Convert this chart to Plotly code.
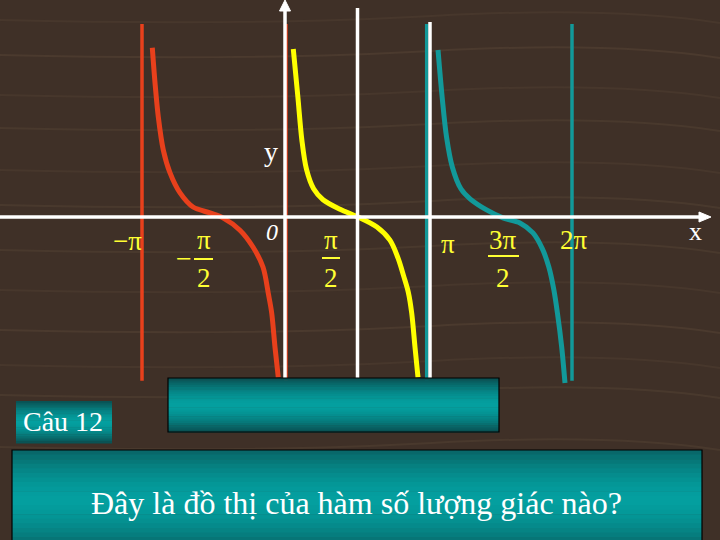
import plotly.graph_objects as go

# ---------------- data (x in units of pi, y in function units) ----------------
red_x = [-0.928, -0.909, -0.886, -0.851, -0.804, -0.734, -0.643, -0.524, -0.434,
         -0.315, -0.224, -0.154, -0.115, -0.093, -0.070, -0.047]
red_y = [3.72, 2.95, 2.20, 1.47, 0.97, 0.53, 0.22, 0.09, -0.02,
         -0.29, -0.66, -1.10, -1.71, -2.11, -2.86, -3.52]

yellow_x = [0.058, 0.090, 0.118, 0.150, 0.200, 0.266, 0.385, 0.510, 0.643, 0.734,
            0.790, 0.830, 0.862, 0.886, 0.909, 0.930]
yellow_y = [3.69, 2.64, 1.69, 1.05, 0.62, 0.38, 0.17, 0.00, -0.22, -0.51,
            -0.90, -1.30, -1.65, -2.11, -2.86, -3.52]

teal_x = [1.070, 1.100, 1.130, 1.170, 1.230, 1.294, 1.413, 1.524, 1.643, 1.734,
          1.800, 1.845, 1.880, 1.905, 1.935, 1.958]
teal_y = [3.67, 2.60, 1.75, 1.10, 0.62, 0.40, 0.15, -0.02, -0.13, -0.35,
          -0.70, -1.10, -1.60, -2.11, -2.86, -3.65]

# asymptotes (x in units of pi)
asym_x = [-1.0, 0.007, 0.991, 2.007]
asym_color = ["#e8401c", "#e8401c", "#12999a", "#12999a"]
asym_top = 4.24
asym_bottom = -3.60

tick_simple = ["\u2212\u03c0", "\u03c0", "2\u03c0"]
tick_fractions = [("\u03c0", "2"), ("\u03c0", "2"), ("3\u03c0", "2")]
axis_labels = ["x", "y", "0"]
question_no = "C\u00e2u 12"
question = "\u0110\u00e2y l\u00e0 \u0111\u1ed3 th\u1ecb c\u1ee7a h\u00e0m s\u1ed1 l\u01b0\u1ee3ng gi\u00e1c n\u00e0o?"

# ---------------- layout helpers ----------------
W, H = 720, 540
X0, Y0 = 285, 217
PXPI, PXU = 143.0, 45.5


def px2x(px):
    return (px - X0) / PXPI


def py2y(py):
    return (Y0 - py) / PXU


WOOD = "#3f3027"
RED = "#e8401c"
YEL = "#ffff00"
TEAL = "#12999a"
LBL = "#ffff33"
SERIF = "Liberation Serif, Times New Roman, serif"

fig = go.Figure()

for ax, col in zip(asym_x, asym_color):
    fig.add_trace(go.Scatter(x=[ax, ax], y=[asym_top, asym_bottom], mode="lines",
                             line=dict(color=col, width=3.5), hoverinfo="skip"))

for xs, ys, col in [(red_x, red_y, RED), (yellow_x, yellow_y, YEL), (teal_x, teal_y, TEAL)]:
    fig.add_trace(go.Scatter(x=xs, y=ys, mode="lines",
                             line=dict(color=col, width=5, shape="spline", smoothing=0.9),
                             hoverinfo="skip"))

shapes = []
# faint wood grain streaks (background decoration)
for i, (gy, a) in enumerate([(20, .10), (55, .14), (95, .10), (128, .12), (170, .10), (205, .13),
                             (250, .12), (290, .10), (330, .14), (365, .10), (395, .13), (447, .12)]):
    shapes.append(dict(type="path", xref="paper", yref="paper",
                       path=f"M 0 {1-gy/H} Q 0.35 {1-(gy+6)/H} 0.6 {1-(gy-4)/H} T 1 {1-(gy+3)/H}",
                       line=dict(color=f"rgba(150,120,90,{a})", width=2), layer="below"))

# white axes and extra white verticals
shapes.append(dict(type="line", xref="x", yref="y", x0=px2x(0), x1=px2x(702), y0=0, y1=0,
                   line=dict(color="white", width=3.5), layer="above"))
shapes.append(dict(type="path", xref="x", yref="y",
                   path=f"M {px2x(699)} {py2y(212)} L {px2x(711)} {py2y(217)} L {px2x(699)} {py2y(222)} Z",
                   fillcolor="white", line=dict(color="white", width=1), layer="above"))
shapes.append(dict(type="line", xref="x", yref="y", x0=0, x1=0, y0=py2y(9), y1=py2y(380),
                   line=dict(color="white", width=3.5), layer="above"))
shapes.append(dict(type="path", xref="x", yref="y",
                   path=f"M {px2x(279.5)} {py2y(11)} L {px2x(285)} {py2y(0)} L {px2x(290.5)} {py2y(11)} Z",
                   fillcolor="white", line=dict(color="white", width=1), layer="above"))
for px, top in [(357.5, 8), (430, 22)]:
    shapes.append(dict(type="line", xref="x", yref="y", x0=px2x(px), x1=px2x(px),
                       y0=py2y(top), y1=py2y(380),
                       line=dict(color="white", width=3.5), layer="above"))

# fraction bars
for x0p, x1p, yp in [(194, 213, 259), (322, 340, 258), (488, 519, 256)]:
    shapes.append(dict(type="line", xref="x", yref="y", x0=px2x(x0p), x1=px2x(x1p),
                       y0=py2y(yp), y1=py2y(yp), line=dict(color=LBL, width=2), layer="above"))


def grad_box(x0, y0, x1, y1, border=None, n=24, peak=0.5):
    dark = (10, 78, 80)
    bright = (4, 160, 160)
    out = []
    h = (y1 - y0) / n
    for i in range(n):
        t = (i + 0.5) / n
        d = abs(t - peak) / max(peak, 1 - peak)
        f = max(0.0, 1 - d ** 1.6)
        c = tuple(int(dark[k] + (bright[k] - dark[k]) * f) for k in range(3))
        out.append(dict(type="rect", xref="paper", yref="paper",
                        x0=x0 / W, x1=x1 / W, y0=1 - (y0 + i * h) / H, y1=1 - (y0 + (i + 1) * h + 0.6) / H,
                        fillcolor=f"rgb{c}", line=dict(width=0), layer="above"))
    if border:
        out.append(dict(type="rect", xref="paper", yref="paper",
                        x0=x0 / W, x1=x1 / W, y0=1 - y0 / H, y1=1 - y1 / H,
                        fillcolor="rgba(0,0,0,0)", line=dict(color=border, width=1.2), layer="above"))
    return out


shapes += grad_box(168, 378, 499, 432, border="black")
shapes += grad_box(16, 401, 112, 443)
shapes += grad_box(12, 450, 702, 560, border="black", peak=0.45)

ann = []


def label(px, py, text, color=LBL, size=26, italic=False):
    t = f"<i>{text}</i>" if italic else text
    ann.append(dict(x=px / W, y=1 - py / H, xref="paper", yref="paper", text=t,
                    showarrow=False, xanchor="center", yanchor="middle",
                    font=dict(family=SERIF, size=size, color=color)))


# simple ticks
label(127, 241, tick_simple[0], size=27)
label(448, 244, tick_simple[1], size=27)
label(574, 240, tick_simple[2], size=27)
# fractions
label(184, 258, "\u2212", size=28)
for (num, den), cx in zip(tick_fractions, [204, 331, 503]):
    label(cx, 240, num, size=27)
    label(cx, 278, den, size=27)
# axis labels
label(695, 232, axis_labels[0], color="white", size=26)
label(271, 151, axis_labels[1], color="white", size=28)
label(272, 232, axis_labels[2], color="white", size=24, italic=True)
# texts in boxes
label(63, 421, question_no, color="white", size=28)
label(356, 503, question, color="white", size=32)

fig.update_layout(
    width=W, height=H, margin=dict(l=0, r=0, t=0, b=0),
    paper_bgcolor=WOOD, plot_bgcolor=WOOD, showlegend=False,
    xaxis=dict(range=[px2x(0), px2x(W)], visible=False, fixedrange=True),
    yaxis=dict(range=[py2y(H), py2y(0)], visible=False, fixedrange=True),
    shapes=shapes, annotations=ann,
)

fig.write_html("out.html", config={"displayModeBar": False},
               post_script="document.body.style.margin='0';document.body.style.background='#3f3027';")
